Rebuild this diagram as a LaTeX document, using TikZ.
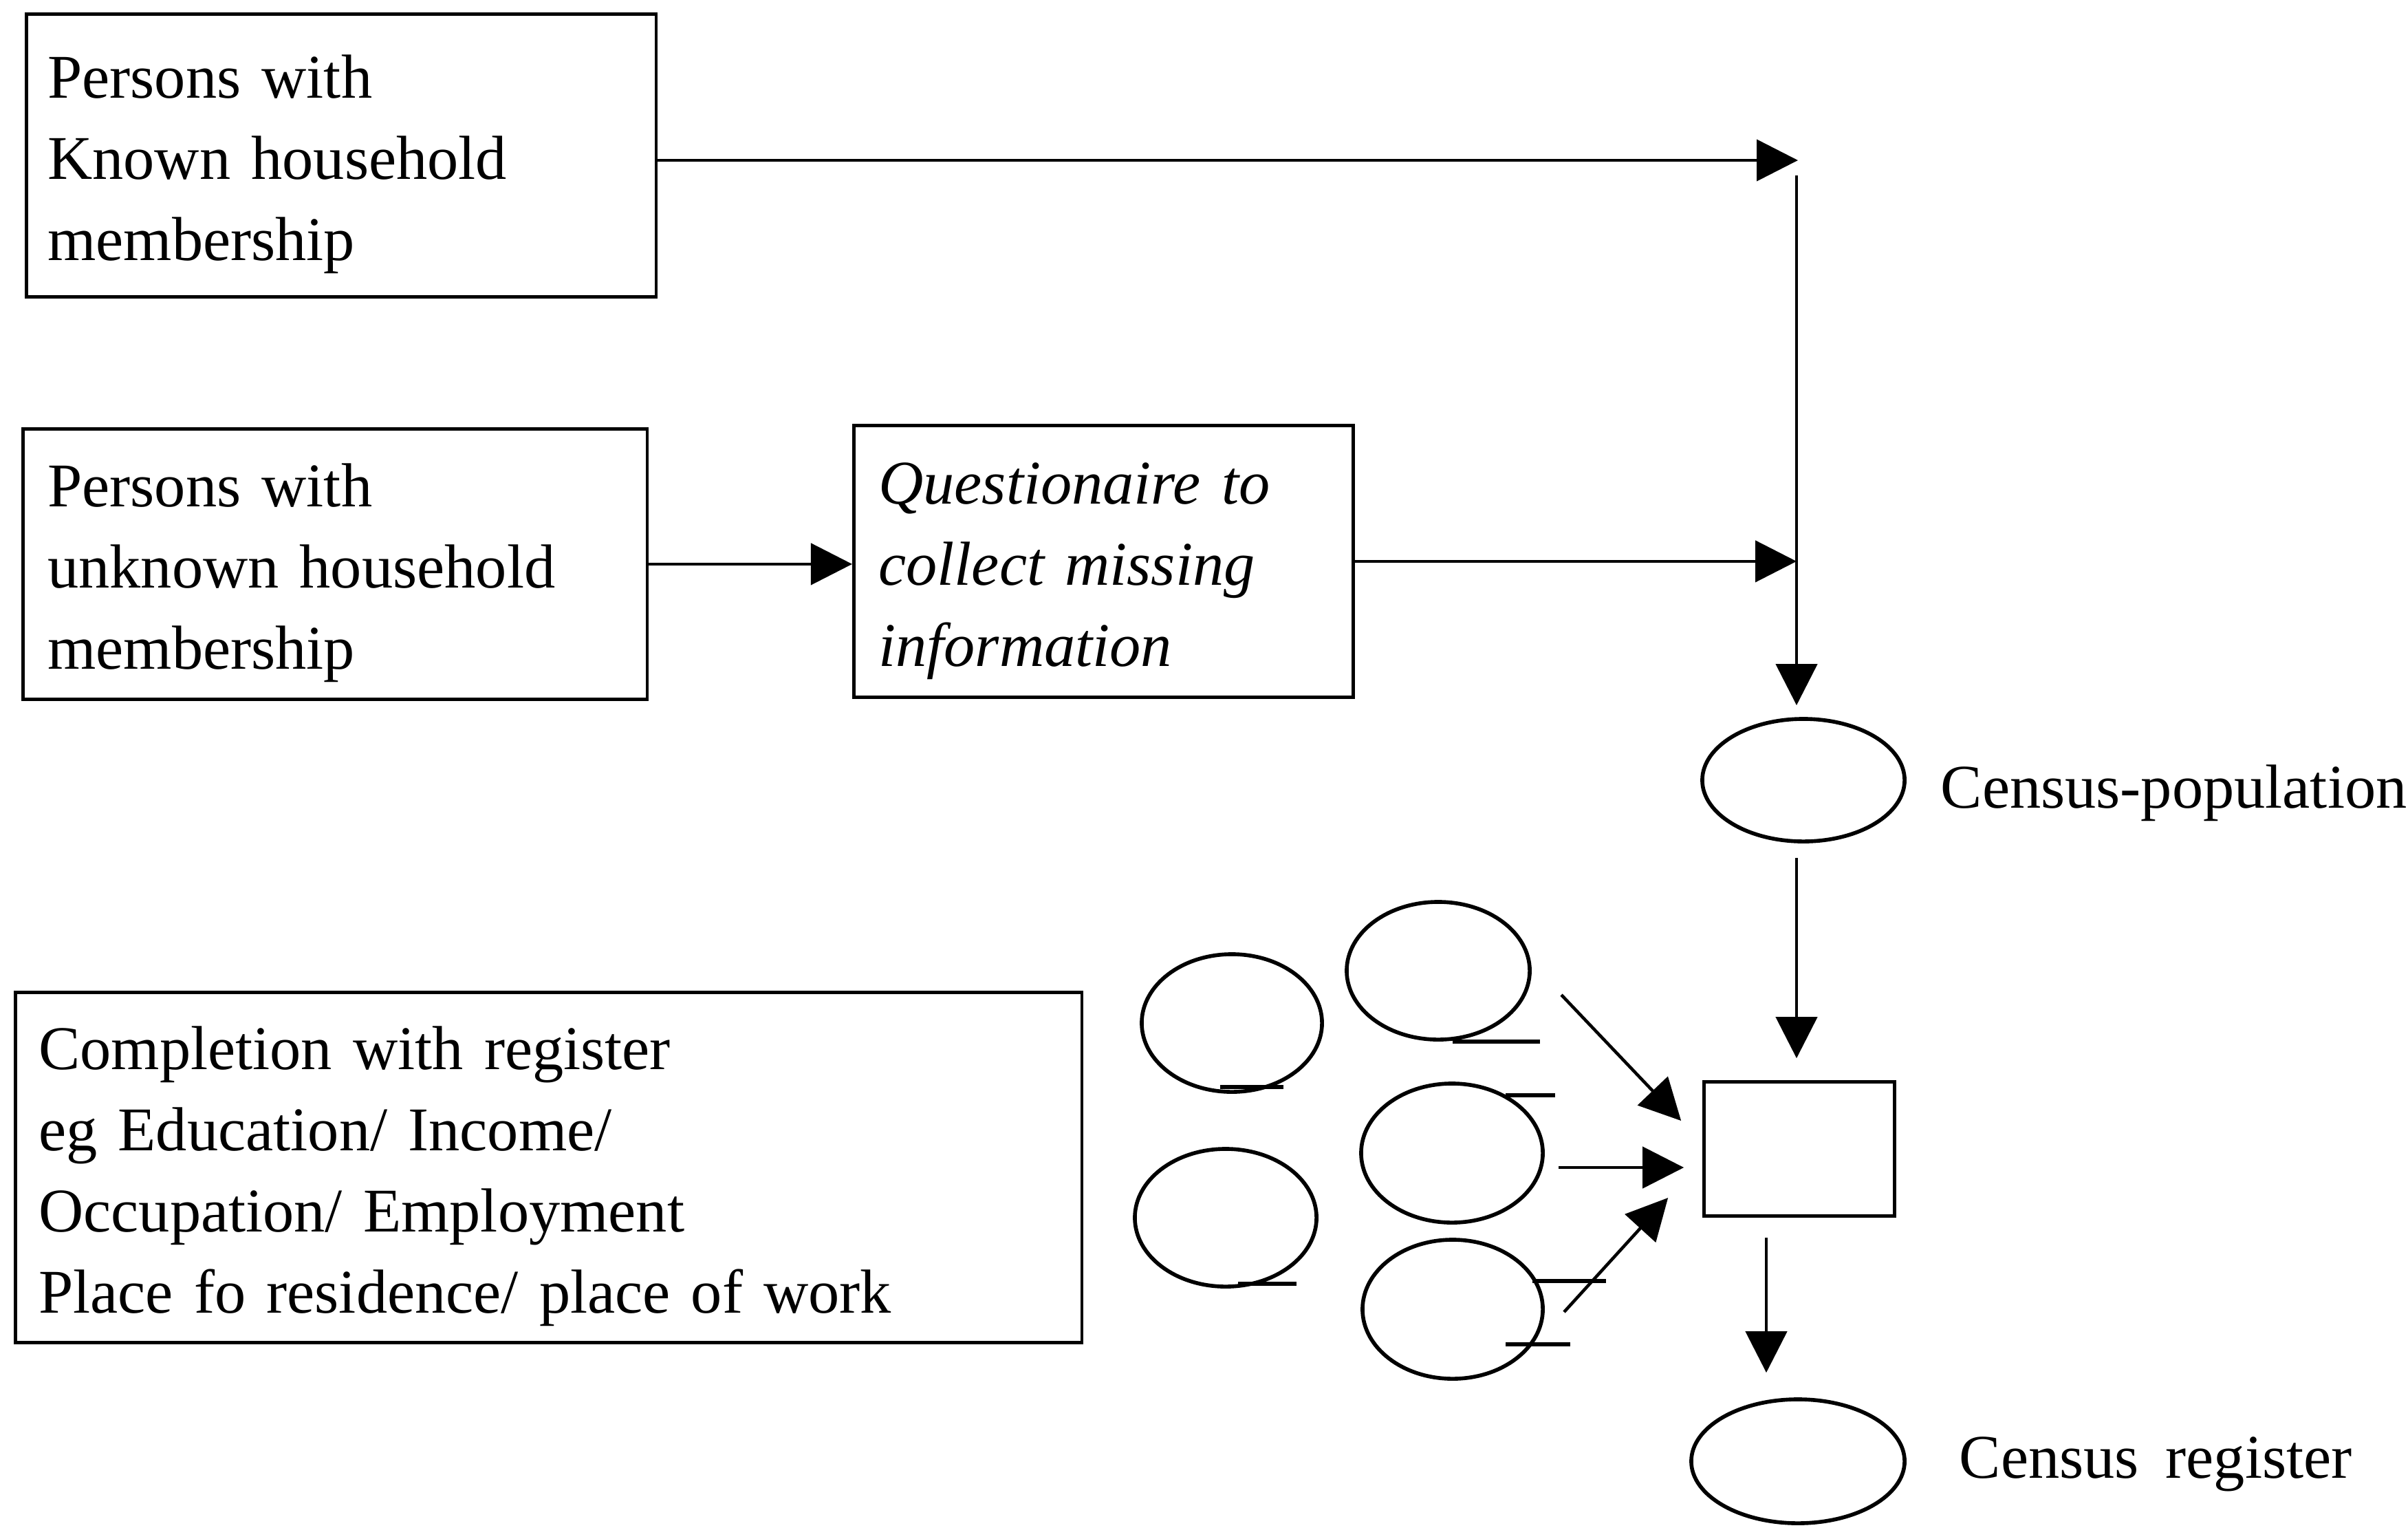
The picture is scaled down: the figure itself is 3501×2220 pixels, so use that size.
\documentclass[tikz,border=0pt]{standalone}
\usepackage{fontspec}
\setmainfont{Liberation Serif}
\usetikzlibrary{arrows.meta,shapes.geometric,calc}
% body text: large serif with generous word spacing
\newcommand{\flowfont}{\fontsize{25.7}{33.6}\selectfont\spaceskip=0.43em plus 0.1em minus 0.05em\relax}
% strut that sets the first line slightly lower in its box
\newcommand{\topstrut}{\rule{0pt}{0.88cm}}

\begin{document}
\begin{tikzpicture}[x=0.01cm,y=-0.01cm,
  every node/.style={font=\flowfont},
  stroke/.style={line width=1.3pt},
  box/.style={stroke, draw, rectangle, anchor=north west, align=left, inner ysep=0pt},
  oval/.style={line width=1.6pt, draw, ellipse, inner sep=0pt},
  flow/.style={stroke, -{Triangle[length=0.6cm,width=0.6cm]}},
  tail/.style={line width=1.7pt}
]
\useasboundingbox (0,0) rectangle (3501,2220);

% source boxes
\node[box, inner xsep=0.31cm, text width=8.53cm, minimum height=4.11cm] (known) at (36,18)
  {\topstrut Persons with\\Known household\\membership};
\node[box, inner xsep=0.36cm, text width=8.35cm, minimum height=3.93cm] (unknown) at (31,621)
  {\topstrut Persons with\\unknown household\\membership};
\node[box, inner xsep=0.36cm, text width=6.54cm, minimum height=3.95cm, font=\flowfont\itshape] (quest) at (1239,616)
  {\topstrut Questionaire to\\collect missing\\information};
\node[box, inner xsep=0.34cm, text width=14.82cm, minimum height=5.09cm] (compl) at (20,1440)
  {\topstrut Completion with register\\eg Education/ Income/\\Occupation/ Employment\\Place fo residence/ place of work};

% census population and register
\node[oval, minimum width=2.94cm, minimum height=1.78cm] (cpop) at (2622,1134) {};
\node[anchor=base west, inner sep=0pt] (cpoplab) at (2821,1174) {Census-population};
\node[rectangle, stroke, draw, minimum width=2.77cm, minimum height=1.95cm, inner sep=0pt] (merge) at (2616,1670) {};
\node[oval, minimum width=3.1cm, minimum height=1.8cm] (creg) at (2614,2124) {};
\node[anchor=base west, inner sep=0pt] (creglab) at (2848,2148) {Census register};

% register ellipses
\node[oval, minimum width=2.62cm, minimum height=2.0cm] (r1) at (1791,1487) {};
\node[oval, minimum width=2.66cm, minimum height=2.0cm] (r2) at (2091,1411) {};
\node[oval, minimum width=2.64cm, minimum height=2.0cm] (r3) at (1782,1770) {};
\node[oval, minimum width=2.64cm, minimum height=2.02cm] (r4) at (2111,1676) {};
\node[oval, minimum width=2.62cm, minimum height=2.02cm] (r5) at (2112,1903) {};

% small strokes attached to the register ellipses
\draw[tail] ($(r1.center)+(-17,93)$) -- ($(r1.center)+(75,93)$);
\draw[tail] ($(r2.center)+(21,103)$) -- ($(r2.center)+(148,103)$);
\draw[tail] ($(r3.center)+(18,96)$) -- ($(r3.center)+(103,96)$);
\draw[tail] ($(r4.center)+(78,-84)$) -- ($(r4.center)+(150,-84)$);
\draw[tail] ($(r5.center)+(116,-41)$) -- ($(r5.center)+(223,-41)$);
\draw[tail] ($(r5.center)+(77,51)$) -- ($(r5.center)+(171,51)$);

% collecting line
\coordinate (jin) at (2614,233);
\coordinate (jtop) at (2612,255);

\draw[flow] (known.east |- jin) -- (jin);
\draw[flow] (unknown.east) -- (unknown.east -| quest.west);
\draw[flow] (quest.east) -- (quest.east -| jtop);
\draw[flow, shorten >=0.17cm] (jtop) -- (jtop |- cpop.north);
\draw[flow] ($(jtop |- cpop.south)+(0,21)$) -- ($(jtop |- merge.north)+(0,-32)$);

% registers into the merge box
\draw[flow] ($(r2.center)+(179,35)$) -- ($(merge.west)+(-31,-41)$);
\draw[flow] ($(r4.center)+(155,21)$) -- ($(merge.west)+(-27,27)$);
\draw[flow] ($(r5.center)+(162,4)$) -- ($(merge.west)+(-50,71)$);

% merge box to census register
\coordinate (mout) at ($(merge.south)+(-48,29)$);
\draw[flow] (mout) -- ($(mout |- creg.north)+(0,-36)$);
\end{tikzpicture}
\end{document}
